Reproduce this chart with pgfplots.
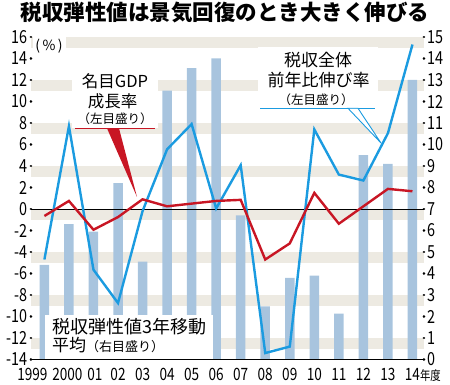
\documentclass[border=0pt]{standalone}
\usepackage{fontspec}
\setmainfont{Noto Sans CJK JP}
\newfontfamily\tickfont{Noto Sans CJK JP}[FakeStretch=0.8]
\usepackage{pgfplots}
\pgfplotsset{compat=1.18}
\usepackage{pgfplotstable}
\definecolor{band}{RGB}{237,234,226}
\definecolor{barblue}{RGB}{168,196,222}
\definecolor{lblue}{RGB}{27,155,224}
\definecolor{lred}{RGB}{200,22,36}

\pgfplotstableread{
x bar blue red
0 4.4 -4.7 -0.65
1 6.3 7.7 0.75
2 5.95 -5.65 -1.93
3 8.2 -8.75 -0.75
4 4.55 -0.2 0.9
5 12.5 5.55 0.25
6 13.55 7.9 0.5
7 14.0 0.05 0.75
8 6.7 4.07 0.85
9 2.47 -13.4 -4.7
10 3.8 -12.8 -3.2
11 3.9 7.4 1.5
12 2.13 3.2 -1.37
13 9.5 2.65 0.25
14 9.1 7.05 1.87
15 13.0 15.3 1.65
}\data

\begin{document}
\begin{tikzpicture}[x=1pt,y=1pt]
\path[use as bounding box] (0,0) rectangle (450,385);
% background bands
\foreach \v in {15,11,7,3,-1,-5,-9,-13}{
  \fill[band] (30.9,{25.5+(\v+14)*10.75}) rectangle (424,{25.5+(\v+15)*10.75});
}
\begin{axis}[at={(30.9pt,25.5pt)}, anchor=south west, scale only axis,
  width=393.1pt, height=322.5pt,
  xmin=-0.55, xmax=15.47, ymin=0, ymax=15,
  axis x line=none, axis y line*=right, y axis line style={draw=none},
  ytick={0,...,15}, major tick length=0.1pt,
  ytick style={line width=2.6pt, line cap=round, black},
  yticklabel style={font=\tickfont\fontsize{18}{18}\selectfont, inner sep=0pt, xshift=3.5pt, anchor=west},
  /pgf/number format/assume math mode=true,
  clip=false]
\addplot[ybar, bar width=9.5pt, fill=barblue, draw=none, bar shift=0pt] table[x=x,y=bar]{\data};
\end{axis}
\begin{axis}[at={(30.9pt,25.5pt)}, anchor=south west, scale only axis,
  width=393.1pt, height=322.5pt,
  xmin=-0.55, xmax=15.47, ymin=-14, ymax=16,
  axis x line*=bottom, axis y line*=left, y axis line style={draw=none},
  x axis line style={black, line width=0.9pt, -},
  xtick={0,...,15},
  xticklabels={{\makebox[0pt]{\kern-24pt 1999}},{\makebox[0pt]{\kern-3pt 2000}},{\makebox[0pt]{\kern3pt 01}},02,03,04,05,06,07,08,09,10,11,12,13,{14\rlap{\fontsize{13}{13}\selectfont 年度}}},
  xtick style={draw=none},
  ytick={-14,-12,...,16}, major tick length=0.1pt,
  ytick style={line width=2.6pt, line cap=round, black},
  yticklabel style={font=\tickfont\fontsize{18}{18}\selectfont, inner sep=0pt, xshift=-3.5pt, anchor=east},
  xticklabel style={font=\tickfont\fontsize{17}{17}\selectfont, inner sep=0pt, anchor=north, yshift=-8.5pt},
  /pgf/number format/assume math mode=true]
\addplot[black, line width=0.9pt] coordinates {(-0.55,0) (15.47,0)};
\addplot[lblue, line width=2.4pt] table[x=x,y=blue]{\data};
\addplot[lred, line width=2.4pt] table[x=x,y=red]{\data};
\end{axis}
% title
\node[font=\bfseries\fontsize{21.5}{21.5}\selectfont] at (225,372.5) {税収弾性値は景気回復のとき大きく伸びる};
% (%)
\fill[white] (33,335) rectangle (66,349);
\node[font=\fontsize{14}{14}\selectfont, inner sep=0pt] at (49,338.5) {(\,\%\,)};
% box 1
\fill[white] (72,257) rectangle (158,315);
\node[font=\fontsize{16.5}{16.5}\selectfont, inner sep=0pt] at (115,303.5) {名目GDP};
\node[font=\fontsize{16.5}{16.5}\selectfont, inner sep=0pt] at (112.5,284) {成長率};
\node[font=\fontsize{12.5}{12.5}\selectfont, inner sep=0pt] at (115,266.5) {（左目盛り）};
\draw[lred, line width=1pt] (75,256.7) -- (155,256.7);
\fill[lred] (107,256.7) -- (119,256.7) -- (137,188) -- cycle;
% box 2
\fill[white] (258,277) rectangle (378,338);
\node[font=\fontsize{17}{17}\selectfont, inner sep=0pt] at (318,324.5) {税収全体};
\node[font=\fontsize{17}{17}\selectfont, inner sep=0pt] at (318.5,304.5) {前年比伸び率};
\node[font=\fontsize{12.5}{12.5}\selectfont, inner sep=0pt] at (316,285) {（左目盛り）};
\draw[lblue, line width=1pt] (260,276.7) -- (375,276.7);
\filldraw[fill=white, draw=lblue, line width=0.9pt, line join=miter] (348,276.7) -- (358,276.7) -- (381,242) -- cycle;
% box 3
\fill[white] (45,26.2) rectangle (213,70);
\node[font=\fontsize{18}{18}\selectfont, inner sep=0pt, anchor=west] at (52,58.5) {税収弾性値3年移動};
\node[font=\fontsize{17}{17}\selectfont, inner sep=0pt, anchor=west] at (52,39.5) {平均{\fontsize{13}{13}\selectfont （右目盛り）}};
\end{tikzpicture}
\end{document}
